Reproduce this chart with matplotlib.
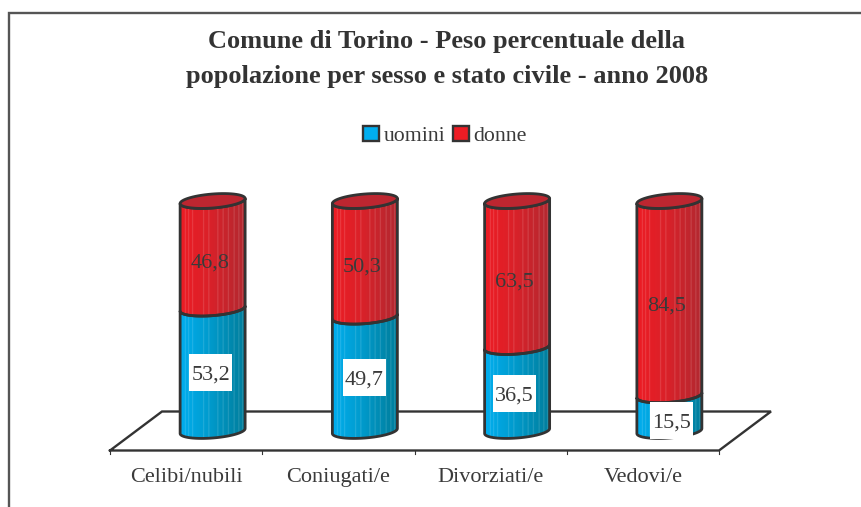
import numpy as np
import matplotlib
matplotlib.use("Agg")
import matplotlib.pyplot as plt
from matplotlib.patches import Patch, Polygon, Rectangle

categories = ["Celibi/nubili", "Coniugati/e", "Divorziati/e", "Vedovi/e"]
uomini = [53.2, 49.7, 36.5, 15.5]
donne = [46.8, 50.3, 63.5, 84.5]

W, H = 861, 507
DARK = "#333333"
TEXT = "#3a3a3a"
STRIPES = [0.08, 0.13, 0.19, 0.36, 0.44, 0.58, 0.66, 0.74, 0.83, 0.9, 0.96]
LABEL_DX = [-2, -0.5, -3, 2]  # pixels, the white boxes are not quite centred

plt.rcParams["font.family"] = ["Liberation Serif", "DejaVu Serif"]
fig = plt.figure(figsize=(W / 100, H / 100), dpi=100, facecolor="white")

# plot box in pixels: x 110..719, y 431..201
ax = fig.add_axes([110 / W, 1 - 431 / H, 609 / W, 230 / H])
ax.set_xlim(0, 4)
ax.set_ylim(0, 100)
ax.axis("off")

# sizes of the fake 3D, in data units
px_x = 4 / 609
px_y = 100 / 230
half_w = 32.5 * px_x
shift_x = 26.5 * px_x
ell_h = 7.0 * px_y
tilt = 2.5 * px_y


def ramp(left, mid, right, n=260):
    stops = np.array([left, mid, right], dtype=float) / 255
    t = np.linspace(0, 1, n)
    img = np.stack([np.interp(t, [0, 0.45, 1], stops[:, i]) for i in range(3)], axis=1)
    for s in STRIPES:
        k = int(s * n)
        img[k:k + 3] = img[k:k + 3] * 0.8 + 0.2
    return img[np.newaxis, :, :]


BLUE = ramp((0, 174, 239), (0, 155, 205), (0, 125, 155))
RED = ramp((237, 28, 36), (218, 33, 41), (178, 40, 48))


def arc(cx, cy, start, stop):
    t = np.linspace(start, stop, 60)
    return cx + half_w * np.cos(t), cy + ell_h * np.sin(t) + tilt * np.cos(t)


def segment(cx, low, high, img):
    # front of a cylinder piece: lower front arc, then upper front arc back
    x0, y0 = arc(cx, low, np.pi, 2 * np.pi)
    x1, y1 = arc(cx, high, 2 * np.pi, np.pi)
    pts = np.column_stack([np.r_[x0, x1], np.r_[y0, y1]])
    poly = Polygon(pts, closed=True, fc="none", ec=DARK, lw=2.0, zorder=3,
                   joinstyle="round", clip_on=False)
    ax.add_patch(poly)
    im = ax.imshow(
        img,
        extent=(cx - half_w, cx + half_w, low - 10, high + 10),
        aspect="auto",
        zorder=2,
        interpolation="bilinear",
    )
    im.set_clip_box(fig.bbox)
    im.set_clip_path(poly)


# floor
front = -19.5 * px_y
back = 19.5 * px_y
depth = 52 * px_x
floor_x = [0, 4, 4 + depth, depth, 0]
floor_y = [front, front, back, back, front]
ax.plot(floor_x, floor_y, color=DARK, lw=1.7, zorder=1, clip_on=False, solid_joinstyle="miter")
for i in range(5):
    ax.plot([i, i], [front, front - 3.5 * px_y], color=DARK, lw=0.8, zorder=1, clip_on=False)

box_w = 43 * px_x
box_h = 37 * px_y
for i, (u, d) in enumerate(zip(uomini, donne)):
    cx = i + 0.5 + shift_x
    segment(cx, 0, u, BLUE)
    segment(cx, u, u + d, RED)
    # top cap
    tx, ty = arc(cx, u + d, 0, 2 * np.pi)
    ax.add_patch(Polygon(np.column_stack([tx, ty]), closed=True, fc="#bd2630", ec=DARK,
                         lw=2.0, zorder=4, clip_on=False))
    lx = cx + LABEL_DX[i] * px_x
    ly = u / 2 * 1.09 - 3.7
    ax.add_patch(Rectangle((lx - box_w / 2, ly - box_h / 2), box_w, box_h, fc="white", ec="none",
                           zorder=5, clip_on=False))
    ax.text(lx, ly, f"{u:.1f}".replace(".", ","), ha="center", va="center_baseline",
            fontsize=16, color=TEXT, zorder=6, clip_on=False)
    ax.text(cx - 2.5 * px_x, u + d / 2 - 2.4, f"{d:.1f}".replace(".", ","), ha="center",
            va="center_baseline", fontsize=16, color=TEXT, zorder=6)
    ax.annotate(categories[i], (i + 0.5, front), xytext=(0, -31.5 * 72 / 100),
                textcoords="offset points", ha="center", va="baseline",
                fontsize=16, color=TEXT, annotation_clip=False)

ax.set_xlim(0, 4)
ax.set_ylim(0, 100)

# chart frame, runs off the right and bottom of the picture
fig.add_artist(Rectangle((9 / W, 1 - 600 / H), 1200 / W, 587 / H, transform=fig.transFigure,
                         fc="none", ec="#555555", lw=1.7))

fig.text(447 / W, 1 - 41.5 / H, "Comune di Torino - Peso percentuale della",
         ha="center", va="center", fontsize=19, fontweight="bold", color=DARK)
fig.text(447 / W, 1 - 77 / H, "popolazione per sesso e stato civile - anno 2008",
         ha="center", va="center", fontsize=19, fontweight="bold", color=DARK)

handles = [
    Patch(fc="#00aeef", ec=DARK, lw=1.7, label="uomini"),
    Patch(fc="#ed1c24", ec=DARK, lw=1.7, label="donne"),
]
fig.legend(
    handles=handles, ncol=2, frameon=False, loc="center", bbox_to_anchor=(445 / W, 1 - 136 / H),
    fontsize=15.7, labelcolor=TEXT, handlelength=0.72, handleheight=0.72, handletextpad=0.2,
    columnspacing=0.37, borderpad=0,
)

fig.savefig("out.png", dpi=100)
